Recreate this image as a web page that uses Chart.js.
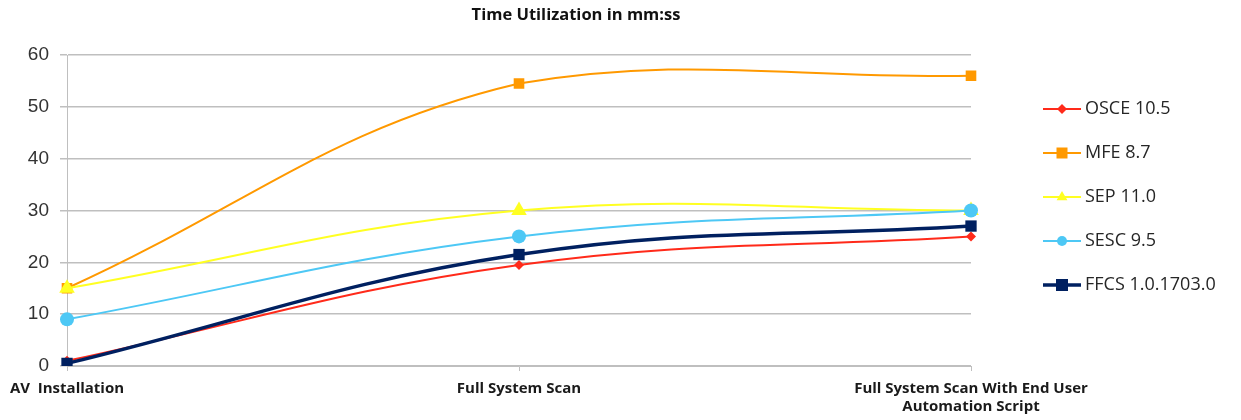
<!DOCTYPE html>
<html>
<head>
<meta charset="utf-8">
<script src="https://cdn.jsdelivr.net/npm/chart.js@4/dist/chart.umd.min.js"></script>
<style>
  html, body { margin: 0; padding: 0; background: #fff; }
  #wrap { width: 1241px; height: 420px; position: relative; }
</style>
</head>
<body>
<div id="wrap"><canvas id="myChart"></canvas></div>
<script>
const categories = [
  "AV  Installation",
  "Full System Scan",
  ["Full System Scan With End User", "Automation Script"],
];
const seriesNames = ["OSCE 10.5", "MFE 8.7", "SEP 11.0", "SESC 9.5", "FFCS 1.0.1703.0"];
const osce = [1, 19.5, 25];
const mfe = [15, 54.5, 56];
const sep = [15, 30, 30];
const sesc = [9, 25, 30];
const ffcs = [0.5, 21.5, 27];
const yTicks = [0, 10, 20, 30, 40, 50, 60];

const styles = [
  { color: "#ff2a1a", width: 2, point: "rectRot", radius: 5 },
  { color: "#ff9900", width: 2, point: "rect", radius: 7.5 },
  { color: "#ffff22", width: 2, point: "triangle", radius: 9 },
  { color: "#4dc8f5", width: 2, point: "circle", radius: 7 },
  { color: "#002060", width: 3.5, point: "rect", radius: 8 },
];
const values = [osce, mfe, sep, sesc, ffcs];

const datasets = values.map((v, i) => ({
  label: seriesNames[i],
  data: v,
  borderColor: styles[i].color,
  backgroundColor: styles[i].color,
  borderWidth: styles[i].width,
  pointStyle: styles[i].point,
  pointRadius: styles[i].radius,
  pointBorderWidth: 0,
  tension: 0.4,
  order: 5 - i, // later series drawn on top, like the original
}));

function marker(ctx, style, x, y, r) {
  ctx.save();
  ctx.fillStyle = style.color;
  ctx.beginPath();
  if (style.point === "rect") {
    ctx.rect(x - r, y - r, r * 2, r * 2);
  } else if (style.point === "rectRot") {
    ctx.moveTo(x, y - r); ctx.lineTo(x + r, y); ctx.lineTo(x, y + r); ctx.lineTo(x - r, y);
  } else if (style.point === "triangle") {
    ctx.moveTo(x, y - r); ctx.lineTo(x + r * 0.9, y + r * 0.55); ctx.lineTo(x - r * 0.9, y + r * 0.55);
  } else {
    ctx.arc(x, y, r, 0, Math.PI * 2);
  }
  ctx.closePath();
  ctx.fill();
  ctx.restore();
}

// title and line legend like the spreadsheet one
const extras = {
  id: "extras",
  afterDraw(chart) {
    const ctx = chart.ctx;
    ctx.save();
    ctx.fillStyle = "#111";
    ctx.font = "bold 16.5px 'Open Sans'";
    ctx.textAlign = "center";
    ctx.textBaseline = "middle";
    ctx.fillText("Time Utilization in mm:ss", 576, 15);

    ctx.font = "18px 'Open Sans'";
    ctx.textAlign = "left";
    ctx.fillStyle = "#262626";
    seriesNames.forEach((name, i) => {
      const y = 109 + i * 44;
      const s = styles[i];
      ctx.strokeStyle = s.color;
      ctx.lineWidth = s.width;
      ctx.beginPath();
      ctx.moveTo(1043, y);
      ctx.lineTo(1081, y);
      ctx.stroke();
      marker(ctx, s, 1062, y, s.point === "rect" ? (i === 4 ? 6 : 5.5) : s.point === "triangle" ? 6 : 5);
      ctx.fillText(name, 1085, y);
    });
    ctx.restore();
  },
};

const config = {
  type: "line",
  data: { labels: categories, datasets: datasets },
  options: {
    responsive: false,
    animation: false,
    layout: { padding: { top: 55, right: 270, bottom: 0, left: 0 } },
    plugins: { legend: { display: false }, tooltip: { enabled: false } },
    scales: {
      x: {
        offset: false,
        afterFit: (s) => { s.height = 54; },
        border: { color: "#bfbfbf" },
        grid: { drawOnChartArea: false, color: "#bfbfbf", tickLength: 5 },
        ticks: {
          maxRotation: 0,
          autoSkip: false,
          color: "#1a1a1a",
          font: { family: "'Open Sans'", size: 15, weight: "bold", lineHeight: 1.25 },
          padding: 8,
        },
      },
      y: {
        min: 0,
        max: 60,
        afterFit: (s) => { s.width = 67; },
        afterBuildTicks: (s) => { s.ticks = yTicks.map((v) => ({ value: v })); },
        border: { color: "#bfbfbf", width: 1 },
        grid: { color: "#bfbfbf", lineWidth: 1.5, tickLength: 7 },
        ticks: { color: "#333", font: { family: "'Liberation Sans'", size: 19 }, padding: 11 },
      },
    },
  },
  plugins: [extras],
};

const canvas = document.getElementById("myChart");
canvas.width = 1241;
canvas.height = 420;
const ctx = canvas.getContext("2d");
const myChart = new Chart(ctx, config);
</script>
</body>
</html>
